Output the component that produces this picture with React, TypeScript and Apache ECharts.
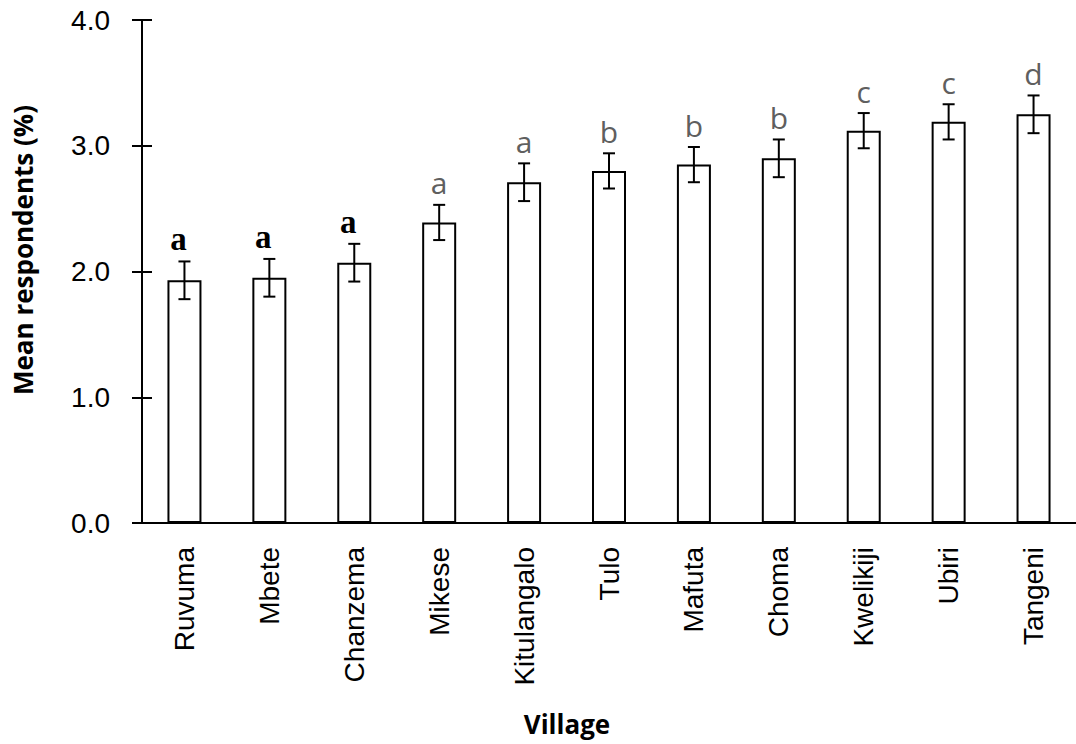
import React, { useEffect, useRef } from "react";
import * as echarts from "echarts";

const villages = ["Ruvuma", "Mbete", "Chanzema", "Mikese", "Kitulangalo", "Tulo", "Mafuta", "Choma", "Kwelikiji", "Ubiri", "Tangeni"];
const means = [1.93, 1.95, 2.07, 2.39, 2.71, 2.8, 2.85, 2.9, 3.12, 3.19, 3.25];
const sem = [0.15, 0.15, 0.15, 0.14, 0.15, 0.14, 0.14, 0.15, 0.14, 0.14, 0.15];
const letters = ["a", "a", "a", "a", "a", "b", "b", "b", "c", "c", "d"];
const yTicks = [0, 1, 2, 3, 4];

const SERIF_COUNT = 3;

export default function App() {
  const ref = useRef<HTMLDivElement>(null);
  useEffect(() => {
    if (!ref.current) return;
    const chart = echarts.init(ref.current, undefined, { renderer: "svg" });
    const errData = villages.map((_, i) => [i, means[i] - sem[i], means[i] + sem[i]]);
    const option: any = {
      animation: false,
      backgroundColor: "#ffffff",
      grid: { left: 142, top: 20, width: 943, height: 503, containLabel: false },
      xAxis: [
        {
          type: "category",
          data: villages,
          position: "bottom",
          axisLine: { show: true, lineStyle: { color: "#000", width: 2 } },
          axisTick: { show: false },
          axisLabel: {
            rotate: 90,
            margin: 24,
            fontFamily: "Liberation Sans",
            fontSize: 28,
            color: "#000",
            interval: 0,
          },
        },
        {
          type: "category",
          data: villages,
          position: "top",
          axisLine: { show: true, lineStyle: { color: "#000", width: 2 } },
          axisTick: { show: false },
          axisLabel: { show: false },
        },
      ],
      yAxis: [
        {
          type: "value",
          min: yTicks[0],
          max: yTicks[yTicks.length - 1],
          interval: 1,
          axisLine: { show: true, lineStyle: { color: "#000", width: 2 } },
          axisTick: { show: true, length: 10, lineStyle: { color: "#000", width: 2 } },
          splitLine: { show: false },
          axisLabel: {
            margin: 32,
            fontFamily: "Liberation Sans",
            fontSize: 28,
            color: "#000",
            formatter: (v: number) => v.toFixed(1),
          },
        },
        {
          type: "value",
          position: "left",
          min: yTicks[0],
          max: yTicks[yTicks.length - 1],
          interval: 1,
          axisLine: { show: false },
          axisTick: { show: true, inside: true, length: 10, lineStyle: { color: "#000", width: 2 } },
          splitLine: { show: false },
          axisLabel: { show: false },
        },
      ],
      series: [
        {
          type: "bar",
          data: means,
          barWidth: 34,
          itemStyle: { color: "#ffffff", borderColor: "#000", borderWidth: 2 },
        },
        {
          type: "custom",
          data: errData,
          z: 5,
          renderItem: (params: any, api: any) => {
            const idx = params.dataIndex;
            const lo = api.coord([api.value(0), api.value(1)]);
            const hi = api.coord([api.value(0), api.value(2)]);
            const cap = 6;
            const ls = { stroke: "#000", lineWidth: 2 };
            const serif = idx < SERIF_COUNT;
            return {
              type: "group",
              children: [
                { type: "line", shape: { x1: hi[0], y1: hi[1], x2: lo[0], y2: lo[1] }, style: ls },
                { type: "line", shape: { x1: hi[0] - cap, y1: hi[1], x2: hi[0] + cap, y2: hi[1] }, style: ls },
                { type: "line", shape: { x1: lo[0] - cap, y1: lo[1], x2: lo[0] + cap, y2: lo[1] }, style: ls },
                {
                  type: "text",
                  x: hi[0] + (serif ? -6 : 0),
                  y: hi[1] - 22,
                  style: {
                    text: letters[idx],
                    fill: serif ? "#000" : "#5f5f5f",
                    font: serif ? "bold 33px 'Liberation Serif'" : "30px 'Open Sans'",
                    align: "center",
                    verticalAlign: "middle",
                  },
                },
              ],
            };
          },
        },
      ],
      graphic: [
        {
          type: "text",
          x: 23,
          y: 250,
          rotation: Math.PI / 2,
          style: {
            text: "Mean respondents (%)",
            font: "bold 26px 'Open Sans'",
            fill: "#000",
            align: "center",
            verticalAlign: "middle",
          },
        },
        {
          type: "text",
          x: 567,
          y: 724,
          style: {
            text: "Village",
            font: "bold 26px 'Open Sans'",
            fill: "#000",
            align: "center",
            verticalAlign: "middle",
          },
        },
      ],
    };
    chart.setOption(option);
    return () => chart.dispose();
  }, []);
  return (
    <div
      ref={ref}
      style={{ position: "absolute", left: 0, top: 0, width: 1076, height: 744, background: "#fff" }}
    />
  );
}
